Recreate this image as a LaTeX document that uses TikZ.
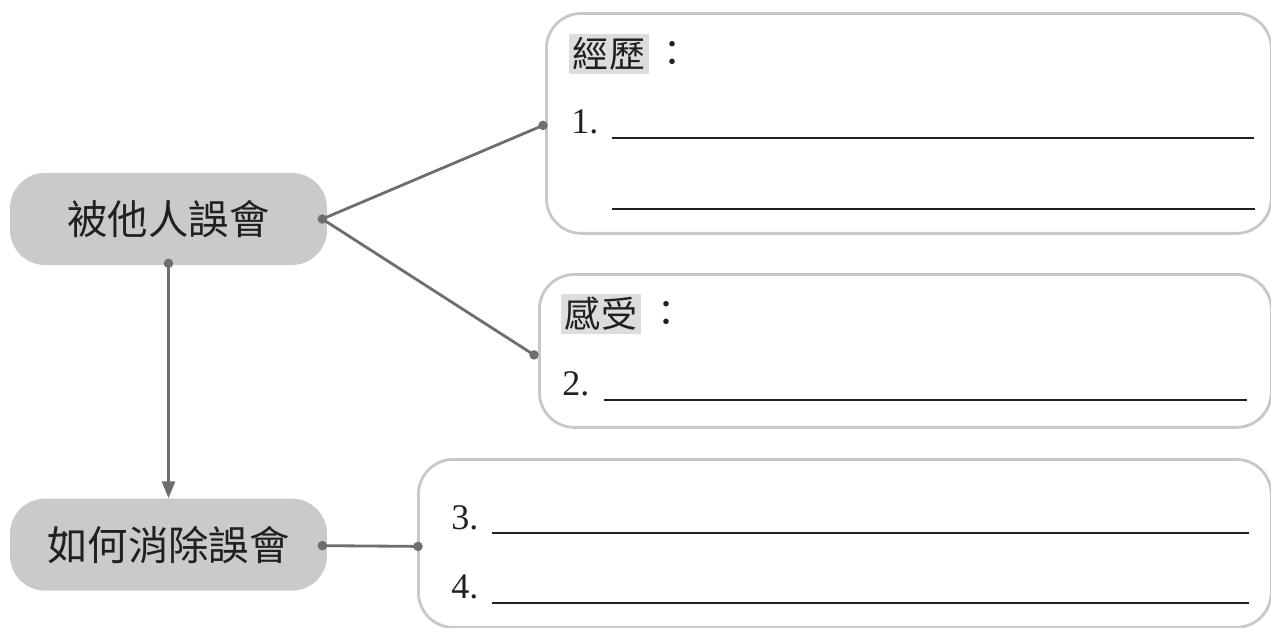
\documentclass[tikz,border=0pt]{standalone}
\usepackage{fontspec}
\setmainfont{Liberation Serif}
\newfontfamily\cjk{Noto Sans CJK TC}
\usetikzlibrary{positioning,arrows.meta}

\definecolor{topicgray}{HTML}{C9CACC}
\definecolor{linkgray}{HTML}{6D6E72}
\definecolor{panelgray}{HTML}{C8C8C8}
\definecolor{taggray}{HTML}{DCDDDF}
\definecolor{inkblack}{HTML}{231F20}

\newcommand\topicfont{\cjk\fontsize{23}{26}\selectfont}
\newcommand\tagfont{\cjk\fontsize{20.5}{24}\selectfont}
\newcommand\numfont{\fontsize{20.5}{24}\selectfont}

\begin{document}
\begin{tikzpicture}[
		x=0.02cm, y=-0.02cm,
		topic/.style={fill=topicgray, rounded corners=0.7cm, minimum width=6.34cm, minimum height=1.84cm, font=\topicfont, text=inkblack},
		panel/.style={draw=panelgray, line width=1.6pt, rounded corners=0.7cm, anchor=north west, inner sep=0pt},
		tag/.style={fill=taggray, inner sep=2pt, font=\tagfont, text=inkblack},
		num/.style={font=\numfont, text=inkblack, anchor=base west, inner sep=0pt},
		rule/.style={draw=inkblack, line width=1.4pt},
		link/.style={draw=linkgray, line width=1.6pt},
		dot/.style={circle, fill=linkgray, inner sep=0pt, minimum size=0.19cm}
	]
	\useasboundingbox (0,0) rectangle (1271,627);

	% left topics
	\node[topic] (misread) at (168.5,219) {被他人誤會};
	\node[topic, below=4.66cm of misread] (clearup) {如何消除誤會};

	% answer panels
	\node[panel, minimum width=14.5cm, minimum height=4.4cm] (story) at (545,12) {};
	\node[panel, minimum width=14.64cm, minimum height=3.06cm] (feeling) at (538,273) {};
	\node[panel, minimum width=17.06cm, minimum height=3.36cm] (remedy) at (417,458) {};

	% panel texts
	\node[tag] (storytag) at (609,54) {經歷};
	\node[font=\tagfont, text=inkblack] (storycolon) at (673,54) {：};
	\node[tag] (feelingtag) at (601,314) {感受};
	\node[font=\tagfont, text=inkblack] (feelingcolon) at (667,314) {：};
	\node[num] (n1) at (571,133) {1.};
	\node[num] (n2) at (562,395) {2.};
	\node[num] (n3) at (451,529) {3.};
	\node[num] (n4) at (451,598) {4.};

	% writing lines
	\draw[rule] (612,138) -- (1254,138);
	\draw[rule] (612,209) -- (1255,209);
	\draw[rule] (604,400) -- (1247,400);
	\draw[rule] (492,533) -- (1249,533);
	\draw[rule] (492,603) -- (1249,603);

	% connector ends
	\coordinate (misread-out) at ([xshift=-0.1cm]misread.east);
	\coordinate (misread-down) at ([yshift=0.04cm]misread.south);
	\coordinate (clearup-out) at ([shift={(-5,1)}]clearup.east);
	\coordinate (story-in) at ([shift={(-2,2)}]story.west);
	\coordinate (feeling-in) at ([shift={(-4,4)}]feeling.west);
	\coordinate (remedy-in) at ([shift={(1,3)}]remedy.west);

	\draw[link] (misread-out) -- (story-in);
	\draw[link] (misread-out) -- (feeling-in);
	\draw[link, -{Triangle[length=0.34cm, width=0.26cm]}] (misread-down) -- (clearup.north);
	\draw[link] (clearup-out) -- (remedy-in);

	\foreach \p in {misread-out, misread-down, clearup-out, story-in, feeling-in, remedy-in}
		\node[dot] at (\p) {};
\end{tikzpicture}
\end{document}
